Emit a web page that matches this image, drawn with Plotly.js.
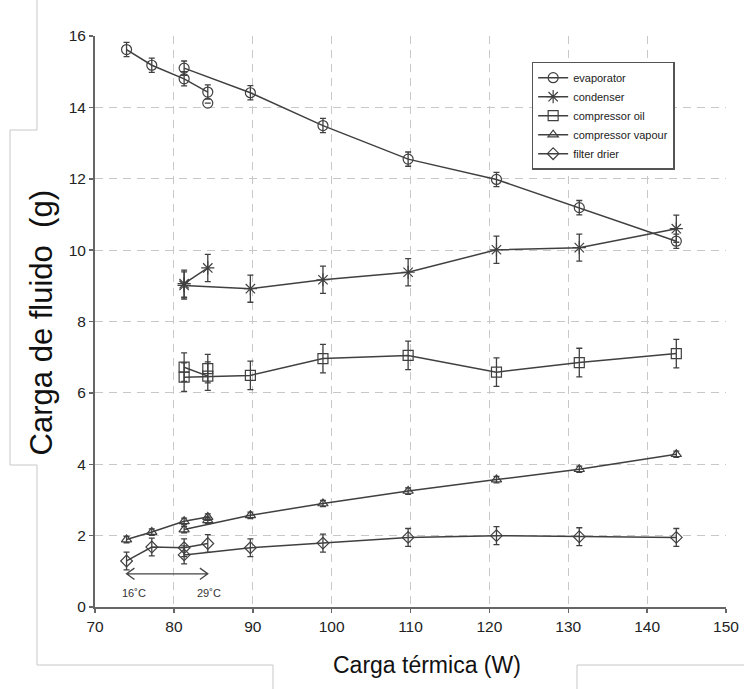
<!DOCTYPE html>
<html>
<head>
<meta charset="utf-8">
<script src="https://cdn.plot.ly/plotly-3.0.1.min.js"></script>
<style>
  html, body { margin: 0; padding: 0; background: #fff; }
  #wrap { position: relative; width: 744px; height: 689px; }
  #chart { position: absolute; left: 0; top: 0; width: 744px; height: 689px; }
  #deco { position: absolute; left: 0; top: 0; pointer-events: none; }
</style>
</head>
<body>
<div id="wrap">
  <div id="chart"></div>
  <svg id="deco" width="744" height="689">
    <polyline points="37,0 37,130 10,130 10,465 37,465 37,665 273,665 273,689" fill="none" stroke="#c8c8c8" stroke-width="1"/>
    <polyline points="577,689 577,665 744,665" fill="none" stroke="#c8c8c8" stroke-width="1"/>
  </svg>
</div>
<script>
// ---- data ----
const x16 = [74.0, 77.2, 81.3, 84.3];          // 16°C run
const x29 = [81.3, 89.7, 98.9, 109.7, 120.9, 131.4, 143.7];  // main run
const x16b = [81.3, 84.3];
const xExtra = [84.3];

const evapA = [15.62, 15.18, 14.80, 14.43];
const evapB = [15.10, 14.41, 13.49, 12.55, 11.98, 11.19, 10.25];
const evapExtra = [14.12];
const evapErr = 0.2;

const condA = [9.06, 9.50];
const condB = [9.01, 8.92, 9.17, 9.38, 10.01, 10.07, 10.60];
const condErr = 0.38;

const oilA = [6.72, 6.47];
const oilB = [6.44, 6.49, 6.96, 7.05, 6.58, 6.85, 7.10];
const oilExtra = [6.68];
const oilErr = 0.4;

const vapA = [1.89, 2.10, 2.40, 2.52];
const vapB = [2.17, 2.57, 2.90, 3.25, 3.57, 3.86, 4.28];
const vapExtra = [2.43];
const vapErr = 0.09;

const filA = [1.29, 1.68, 1.66, 1.78];
const filB = [1.46, 1.66, 1.79, 1.95, 2.00, 1.97, 1.95];
const filErr = 0.25;

const names = ['evaporator', 'condenser', 'compressor oil', 'compressor vapour', 'filter drier'];
const arrowX = [74.0, 84.3];
const arrowY = 0.93;
const tempLabels = ['16˚C', '29˚C'];

// ---- styling ----
const C = '#404040';
function errArr(n, e) { return Array(n).fill(e); }
function mk(x, y, e, sym, size, name, showleg, mode) {
  return {
    x: x, y: y, type: 'scatter', mode: mode || 'lines+markers',
    name: name, legendgroup: name, showlegend: showleg,
    line: { color: C, width: 1.5 },
    marker: { symbol: sym, size: size, color: C, line: { color: C, width: 1.2 } },
    error_y: { type: 'data', array: errArr(x.length, e), visible: true, color: C, thickness: 1.3, width: 3 }
  };
}

const traces = [
  mk(x29, evapB, evapErr, 'circle-open', 10, names[0], true),
  mk(x16, evapA, evapErr, 'circle-open', 10, names[0], false),
  mk(xExtra, evapExtra, 0, 'circle-open', 10, names[0], false, 'markers'),

  mk(x29, condB, condErr, 'asterisk-open', 11, names[1], true),
  mk(x16b, condA, condErr, 'asterisk-open', 11, names[1], false),

  mk(x29, oilB, oilErr, 'square-open', 10, names[2], true),
  mk(x16b, oilA, oilErr, 'square-open', 10, names[2], false),
  mk(xExtra, oilExtra, oilErr, 'square-open', 10, names[2], false, 'markers'),

  mk(x29, vapB, vapErr, 'triangle-up-open', 9, names[3], true),
  mk(x16, vapA, vapErr, 'triangle-up-open', 9, names[3], false),
  mk(xExtra, vapExtra, vapErr, 'triangle-up-open', 9, names[3], false, 'markers'),

  mk(x29, filB, filErr, 'diamond-open', 9, names[4], true),
  mk(x16, filA, filErr, 'diamond-open', 9, names[4], false)
];

const a0 = arrowX[0], a1 = arrowX[1];
const hx = 1.0, hy = 0.16;
const arrowPath = 'M' + a0 + ',' + arrowY + ' L' + a1 + ',' + arrowY +
  ' M' + (a0 + hx) + ',' + (arrowY + hy) + ' L' + a0 + ',' + arrowY + ' L' + (a0 + hx) + ',' + (arrowY - hy) +
  ' M' + (a1 - hx) + ',' + (arrowY + hy) + ' L' + a1 + ',' + arrowY + ' L' + (a1 - hx) + ',' + (arrowY - hy);

const FONT = 'Liberation Sans, Arial, Helvetica, sans-serif';

const layout = {
  width: 744, height: 689,
  margin: { l: 95, r: 18, t: 35.5, b: 82.3, pad: 0 },
  paper_bgcolor: '#fff', plot_bgcolor: '#fff',
  font: { family: FONT, color: '#222', size: 15 },
  showlegend: true,
  legend: {
    x: 0.692, y: 0.955, xanchor: 'left', yanchor: 'top',
    bgcolor: '#fff', bordercolor: '#555', borderwidth: 1.5,
    font: { family: FONT, size: 11, color: '#222' },
    tracegroupgap: 0, itemwidth: 30
  },
  xaxis: {
    range: [70, 150], dtick: 10, tick0: 70,
    showgrid: true, gridcolor: '#c8c8c8', griddash: '8px,6px', gridwidth: 1,
    showline: true, linecolor: '#666', linewidth: 2,
    ticks: 'outside', ticklen: 4, tickcolor: '#666', tickwidth: 1.5,
    zeroline: false, tickfont: { size: 15.5, color: '#222' }
  },
  yaxis: {
    range: [0, 16], dtick: 2, tick0: 0,
    showgrid: true, gridcolor: '#c8c8c8', griddash: '8px,6px', gridwidth: 1,
    showline: true, linecolor: '#666', linewidth: 2,
    ticks: 'outside', ticklen: 4, tickcolor: '#666', tickwidth: 1.5,
    zeroline: false, tickfont: { size: 15.5, color: '#222' }
  },
  shapes: [
    { type: 'path', xref: 'x', yref: 'y', path: arrowPath, line: { color: '#444', width: 1.3 } }
  ],
  annotations: [
    { text: tempLabels[0], x: 75.0, y: 0.39, xref: 'x', yref: 'y', showarrow: false, font: { size: 11, color: '#333' } },
    { text: tempLabels[1], x: 84.4, y: 0.39, xref: 'x', yref: 'y', showarrow: false, font: { size: 11, color: '#333' } },
    { text: 'Carga térmica (W)', x: 0, y: 0, xref: 'paper', yref: 'paper', showarrow: false,
      xanchor: 'center', yanchor: 'middle', font: { size: 23, color: '#111' } },
    { text: 'Carga de fluido\u00a0\u00a0(g)', x: 0, y: 0, xref: 'paper', yref: 'paper', showarrow: false, textangle: -90,
      xanchor: 'center', yanchor: 'middle', font: { size: 31, color: '#111' } }
  ]
};

// convert pixel positions of title annotations into paper coords
const plotL = 95, plotW = 744 - 95 - 18, plotT = 35.5, plotH = 689 - 35.5 - 82.3;
layout.annotations[2].x = (427 - plotL) / plotW; layout.annotations[2].y = (plotT + plotH - 665) / plotH;
layout.annotations[3].x = (41 - plotL) / plotW; layout.annotations[3].y = (plotT + plotH - 323) / plotH;

Plotly.newPlot('chart', traces, layout, { displayModeBar: false, staticPlot: true });
</script>
</body>
</html>
